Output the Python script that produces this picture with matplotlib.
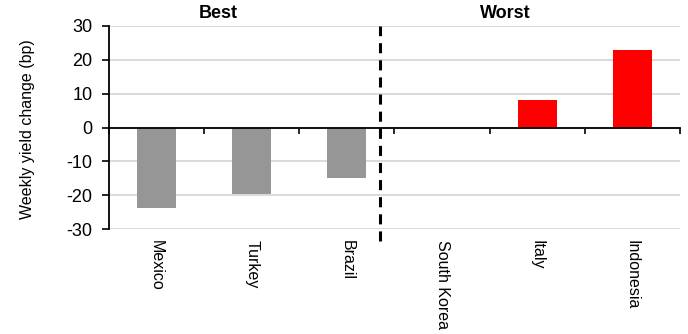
import matplotlib
matplotlib.use('Agg')
import matplotlib.pyplot as plt
import matplotlib.transforms as mtransforms
import numpy as np

plt.rcParams['font.family'] = ['Liberation Sans', 'DejaVu Sans']
plt.rcParams['axes.unicode_minus'] = False

countries = ['Mexico', 'Turkey', 'Brazil', 'South Korea', 'Italy', 'Indonesia']
changes = [-23.8, -19.7, -14.8, 0.0, 8.2, 23.0]
groups = ['best', 'best', 'best', 'worst', 'worst', 'worst']
group_titles = ['Best', 'Worst']
group_colors = {'best': '#969696', 'worst': '#FF0000'}

x = np.arange(len(countries))
colors = [group_colors[g] for g in groups]

fig = plt.figure(figsize=(6.88, 3.34), dpi=100)
ax = fig.add_axes([109/688, 1 - 229/334, 571/688, 203/334])

ax.bar(x, changes, width=0.41, color=colors, zorder=3)

ax.set_xlim(-0.5, len(countries) - 0.5)
ax.set_ylim(-30, 30)
ax.set_yticks(np.arange(-30, 31, 10))
ax.yaxis.grid(True, color='#d4d4d4', linewidth=1.2, zorder=0)
ax.tick_params(axis='y', labelsize=13, length=5, width=1.2, pad=7, direction='out')

# x axis line sits at zero with ticks between categories
ax.spines['bottom'].set_position(('data', 0))
ax.spines['bottom'].set_linewidth(1.3)
ax.spines['bottom'].set_zorder(4)
ax.spines['left'].set_linewidth(1.3)
ax.spines['top'].set_visible(False)
ax.spines['right'].set_visible(False)
ax.set_xticks(np.arange(len(countries) + 1) - 0.5)
ax.tick_params(axis='x', length=4, width=1.2, labelbottom=False, direction='out')

# category labels below the plot
sec = ax.secondary_xaxis('bottom')
sec.set_xticks(x)
sec.set_xticklabels(countries, rotation=270, fontsize=11.5, va='top')
sec.tick_params(length=0, pad=8)
sec.spines['bottom'].set_visible(False)

ax.set_ylabel('Weekly yield change (bp)', fontsize=11.5)
ax.yaxis.set_label_coords(-0.13, 0.49)

# divider between best and worst
ax.axvline(2.35, ymin=-0.06, ymax=1, color='black', linewidth=2.2,
           linestyle=(0, (3.3, 2.3)), clip_on=False, zorder=5)

trans = mtransforms.blended_transform_factory(ax.transData, ax.transAxes)
ax.text(0.65, 1.02, group_titles[0], transform=trans, ha='center', va='bottom',
        fontsize=13, fontweight='bold')
ax.text(3.66, 1.02, group_titles[1], transform=trans, ha='center', va='bottom',
        fontsize=13, fontweight='bold')

fig.savefig('out.png', dpi=100)
